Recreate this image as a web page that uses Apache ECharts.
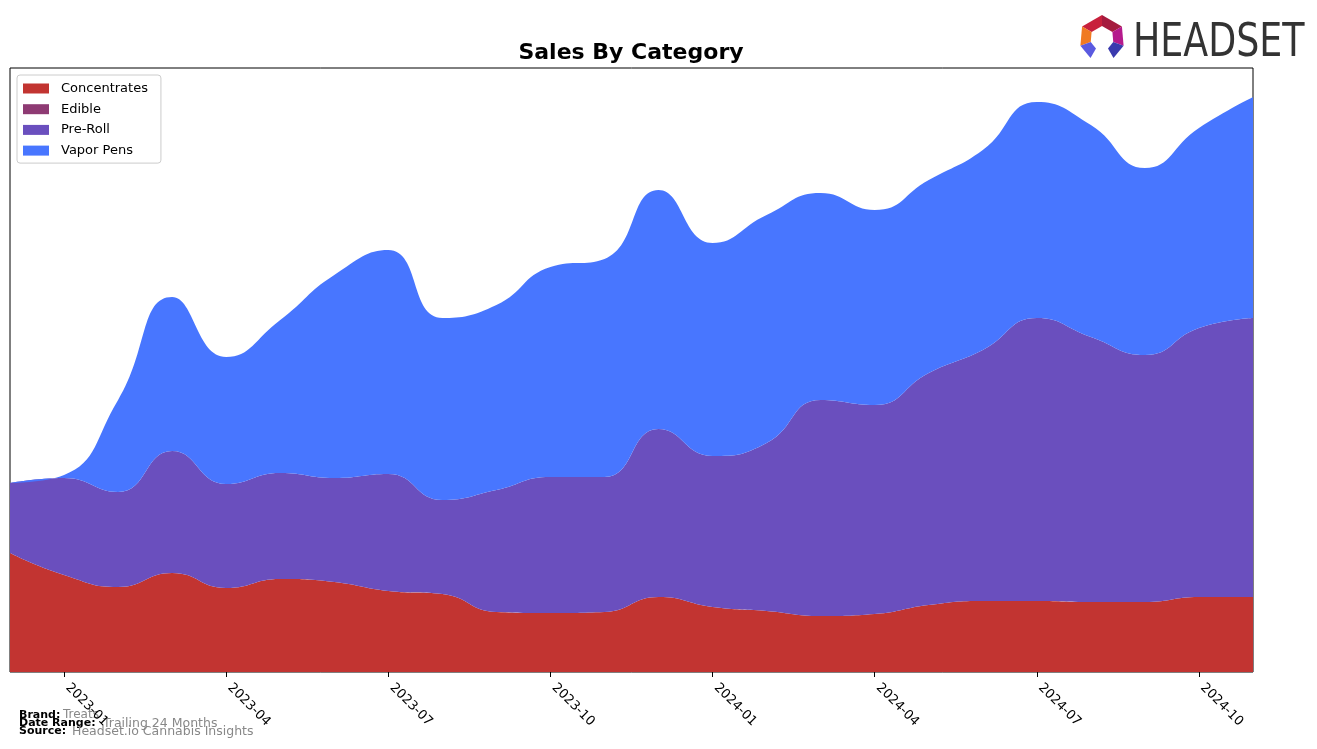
<!DOCTYPE html>
<html>
<head>
<meta charset="utf-8">
<script src="https://cdn.jsdelivr.net/npm/echarts@6/dist/echarts.min.js"></script>
<style>html,body{margin:0;padding:0;background:#fff}#c{width:1317px;height:749px}</style>
</head>
<body>
<div id="c"></div>
<script>
const months = ['2022-12','2023-01','2023-02','2023-03','2023-04','2023-05','2023-06','2023-07','2023-08','2023-09','2023-10','2023-11','2023-12','2024-01','2024-02','2024-03','2024-04','2024-05','2024-06','2024-07','2024-08','2024-09','2024-10','2024-11'];
const tickMonths = ['2023-01','2023-04','2023-07','2023-10','2024-01','2024-04','2024-07','2024-10'];
const concentrates = [119,97,85,99,84,93,90,81,78,60,59,60,75,65,61,56,58,67,71,71,70,70,75,75];
const edible = [0,0,0,0,0,0,0,0,0,0,0,0,0,0,0,0,0,0,0,0,0,0,0,0];
const preRoll = [70,97,95,122,104,106,104,117,94,122,136,135,168,151,168,216,209,232,251,283,265,247,269,279];
const vaporPens = [0,3,92,154,127,153,203,224,182,185,210,218,239,213,228,207,195,193,200,216,212,187,200,221];
const seriesNames = ['Concentrates','Edible','Pre-Roll','Vapor Pens'];
const colors = ['#C23431','#8E3A73','#6A4FBE','#4876FF'];

const chart = echarts.init(document.getElementById('c'), null, {renderer:'canvas'});
const dataSets = [concentrates, edible, preRoll, vaporPens];
const series = seriesNames.map((n,i)=>({
  name:n, type:'line', stack:'total', smooth:0.5, symbol:'none',
  data:dataSets[i],
  lineStyle:{width:0, color:colors[i]},
  itemStyle:{color:colors[i]},
  areaStyle:{color:colors[i], opacity:1}
}));

function seg(a0,a1,color){
  const cx=1102, cy=38, ro=23, ri=12;
  const r=(a)=>(a-90)*Math.PI/180;
  const pts=[[cx+ro*Math.cos(r(a0)),cy+ro*Math.sin(r(a0))],[cx+ro*Math.cos(r(a1)),cy+ro*Math.sin(r(a1))],[cx+ri*Math.cos(r(a1)),cy+ri*Math.sin(r(a1))],[cx+ri*Math.cos(r(a0)),cy+ri*Math.sin(r(a0))]];
  return {type:'polygon', shape:{points:pts}, style:{fill:color}};
}

chart.setOption({
  animation:false,
  legend:{
    orient:'vertical', left:17, top:75, padding:[6,13,5,6], itemGap:5.7,
    itemWidth:26, itemHeight:10, icon:'rect',
    backgroundColor:'#fff', borderColor:'#ccc', borderWidth:1, borderRadius:3,
    textStyle:{fontFamily:'DejaVu Sans', fontSize:13, color:'#000', lineHeight:15, padding:[0,0,0,7]},
    data:seriesNames
  },
  grid:{left:10, top:68, right:64, bottom:77, show:true, borderColor:'#000', borderWidth:1, backgroundColor:'transparent'},
  xAxis:{
    type:'category', boundaryGap:false, data:months,
    axisLine:{show:false},
    axisTick:{show:true, alignWithLabel:true, length:5, lineStyle:{color:'#000'}, interval:(i,v)=>tickMonths.includes(v)},
    axisLabel:{interval:(i,v)=>tickMonths.includes(v), rotate:-45, fontFamily:'DejaVu Sans', fontSize:13, color:'#000', margin:10, padding:[0,0,0,5]},
    splitLine:{show:false}
  },
  yAxis:{type:'value', min:0, max:604, show:false, splitLine:{show:false}},
  series:series,
  graphic:[
    {type:'text', x:631, y:53, style:{text:'Sales By Category', fontFamily:'DejaVu Sans', fontWeight:'bold', fontSize:22, fill:'#000', textAlign:'center', textVerticalAlign:'middle'}},
    seg(-60,0,'#C8203C'), seg(0,60,'#A51B3E'), seg(60,110,'#B51A8C'), seg(110,150,'#3A3AAE'),
    seg(-110,-60,'#F07A22'), seg(-150,-110,'#5A5AE0'),
    {type:'text', x:1133, y:20, scaleX:0.86, style:{text:'HEADSET', fontFamily:'DejaVu Sans Condensed', fontSize:47, fill:'#333', textVerticalAlign:'top'}},
    {type:'text', left:19, top:710, style:{text:'Brand:', fontFamily:'DejaVu Sans', fontWeight:'bold', fontSize:11, fill:'#000'}},
    {type:'text', left:63, top:709, style:{text:'Treats', fontFamily:'DejaVu Sans', fontSize:12, fill:'#888'}},
    {type:'text', left:19, top:718, style:{text:'Date Range:', fontFamily:'DejaVu Sans', fontWeight:'bold', fontSize:11, fill:'#000'}},
    {type:'text', left:103, top:717, style:{text:'Trailing 24 Months', fontFamily:'DejaVu Sans', fontSize:12.5, fill:'#888'}},
    {type:'text', left:19, top:726, style:{text:'Source:', fontFamily:'DejaVu Sans', fontWeight:'bold', fontSize:11, fill:'#000'}},
    {type:'text', left:72, top:725, style:{text:'Headset.io Cannabis Insights', fontFamily:'DejaVu Sans', fontSize:12.5, fill:'#888'}}
  ]
});
</script>
</body>
</html>
